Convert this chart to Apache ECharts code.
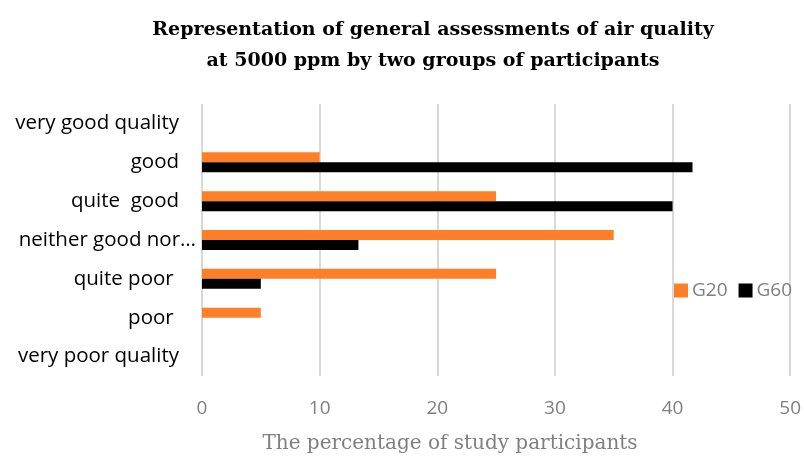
<!DOCTYPE html>
<html>
<head>
<meta charset="utf-8">
<script src="https://cdn.jsdelivr.net/npm/echarts@6/dist/echarts.min.js"></script>
<style>
  html, body { margin: 0; padding: 0; background: #fff; }
  #chart { width: 804px; height: 461px; }
</style>
</head>
<body>
<div id="chart"></div>
<script>
// Rating categories, listed top to bottom
const categories = [
  'very good quality',
  'good',
  'quite  good',
  'neither good nor\u2026',
  'quite poor ',
  'poor ',
  'very poor quality'
];
// Share of participants (%) in each group
const g20 = [0, 10, 25, 35, 25, 5, 0];
const g60 = [0, 41.7, 40, 13.3, 5, 0, 0];
const xTicks = [0, 10, 20, 30, 40, 50];

const chart = echarts.init(document.getElementById('chart'), null, { renderer: 'canvas' });

const labelFont = 'Open Sans';

chart.setOption({
  backgroundColor: '#ffffff',
  animation: false,
  title: [
    {
      text: 'Representation of general assessments of air quality\nat 5000 ppm by two groups of participants',
      left: 428,
      textAlign: 'center',
      top: 10,
      textStyle: {
        fontFamily: 'DejaVu Serif',
        fontWeight: 'bold',
        fontSize: 19,
        lineHeight: 31,
        color: '#000000'
      }
    },
    {
      // axis caption under the value axis
      text: 'The percentage of study participants',
      left: 445,
      textAlign: 'center',
      top: 429,
      textStyle: {
        fontFamily: 'DejaVu Serif',
        fontWeight: 'normal',
        fontSize: 20,
        color: '#7f7f7f'
      }
    }
  ],
  legend: {
    data: ['G20', 'G60'],
    left: 669,
    top: 276,
    itemWidth: 14,
    itemHeight: 14,
    itemGap: 11,
    icon: 'rect',
    textStyle: {
      fontFamily: labelFont,
      fontSize: 19,
      color: '#7f7f7f',
      padding: [0, 0, 0, -1]
    }
  },
  grid: {
    left: 202,
    right: 13,
    top: 104,
    bottom: 85,
    containLabel: false
  },
  xAxis: {
    type: 'value',
    min: xTicks[0],
    max: xTicks[xTicks.length - 1],
    interval: 10,
    axisLine: { show: false },
    axisTick: { show: false },
    axisLabel: {
      margin: 23,
      fontFamily: labelFont,
      fontSize: 19,
      color: '#7f7f7f'
    },
    splitLine: { show: true, lineStyle: { color: '#d9d9d9', width: 2 } }
  },
  yAxis: {
    type: 'category',
    data: categories,
    inverse: true,
    axisLine: { show: false },
    axisTick: { show: false },
    axisLabel: {
      margin: 23,
      fontFamily: labelFont,
      fontSize: 20.5,
      color: '#000000',
      formatter: function (v) {
        return v.indexOf('neither') === 0 ? '{w|' + v + '}' : v;
      },
      rich: {
        w: { fontFamily: labelFont, fontSize: 20.5, color: '#000000', padding: [0, -17, 0, 0] }
      }
    },
    splitLine: { show: false }
  },
  series: [
    {
      name: 'G20',
      type: 'bar',
      data: g20,
      barWidth: 10,
      barGap: '0%',
      itemStyle: { color: '#fe7f27' }
    },
    {
      name: 'G60',
      type: 'bar',
      data: g60,
      barWidth: 10,
      barGap: '0%',
      itemStyle: { color: '#000000' }
    }
  ]
});
</script>
</body>
</html>
